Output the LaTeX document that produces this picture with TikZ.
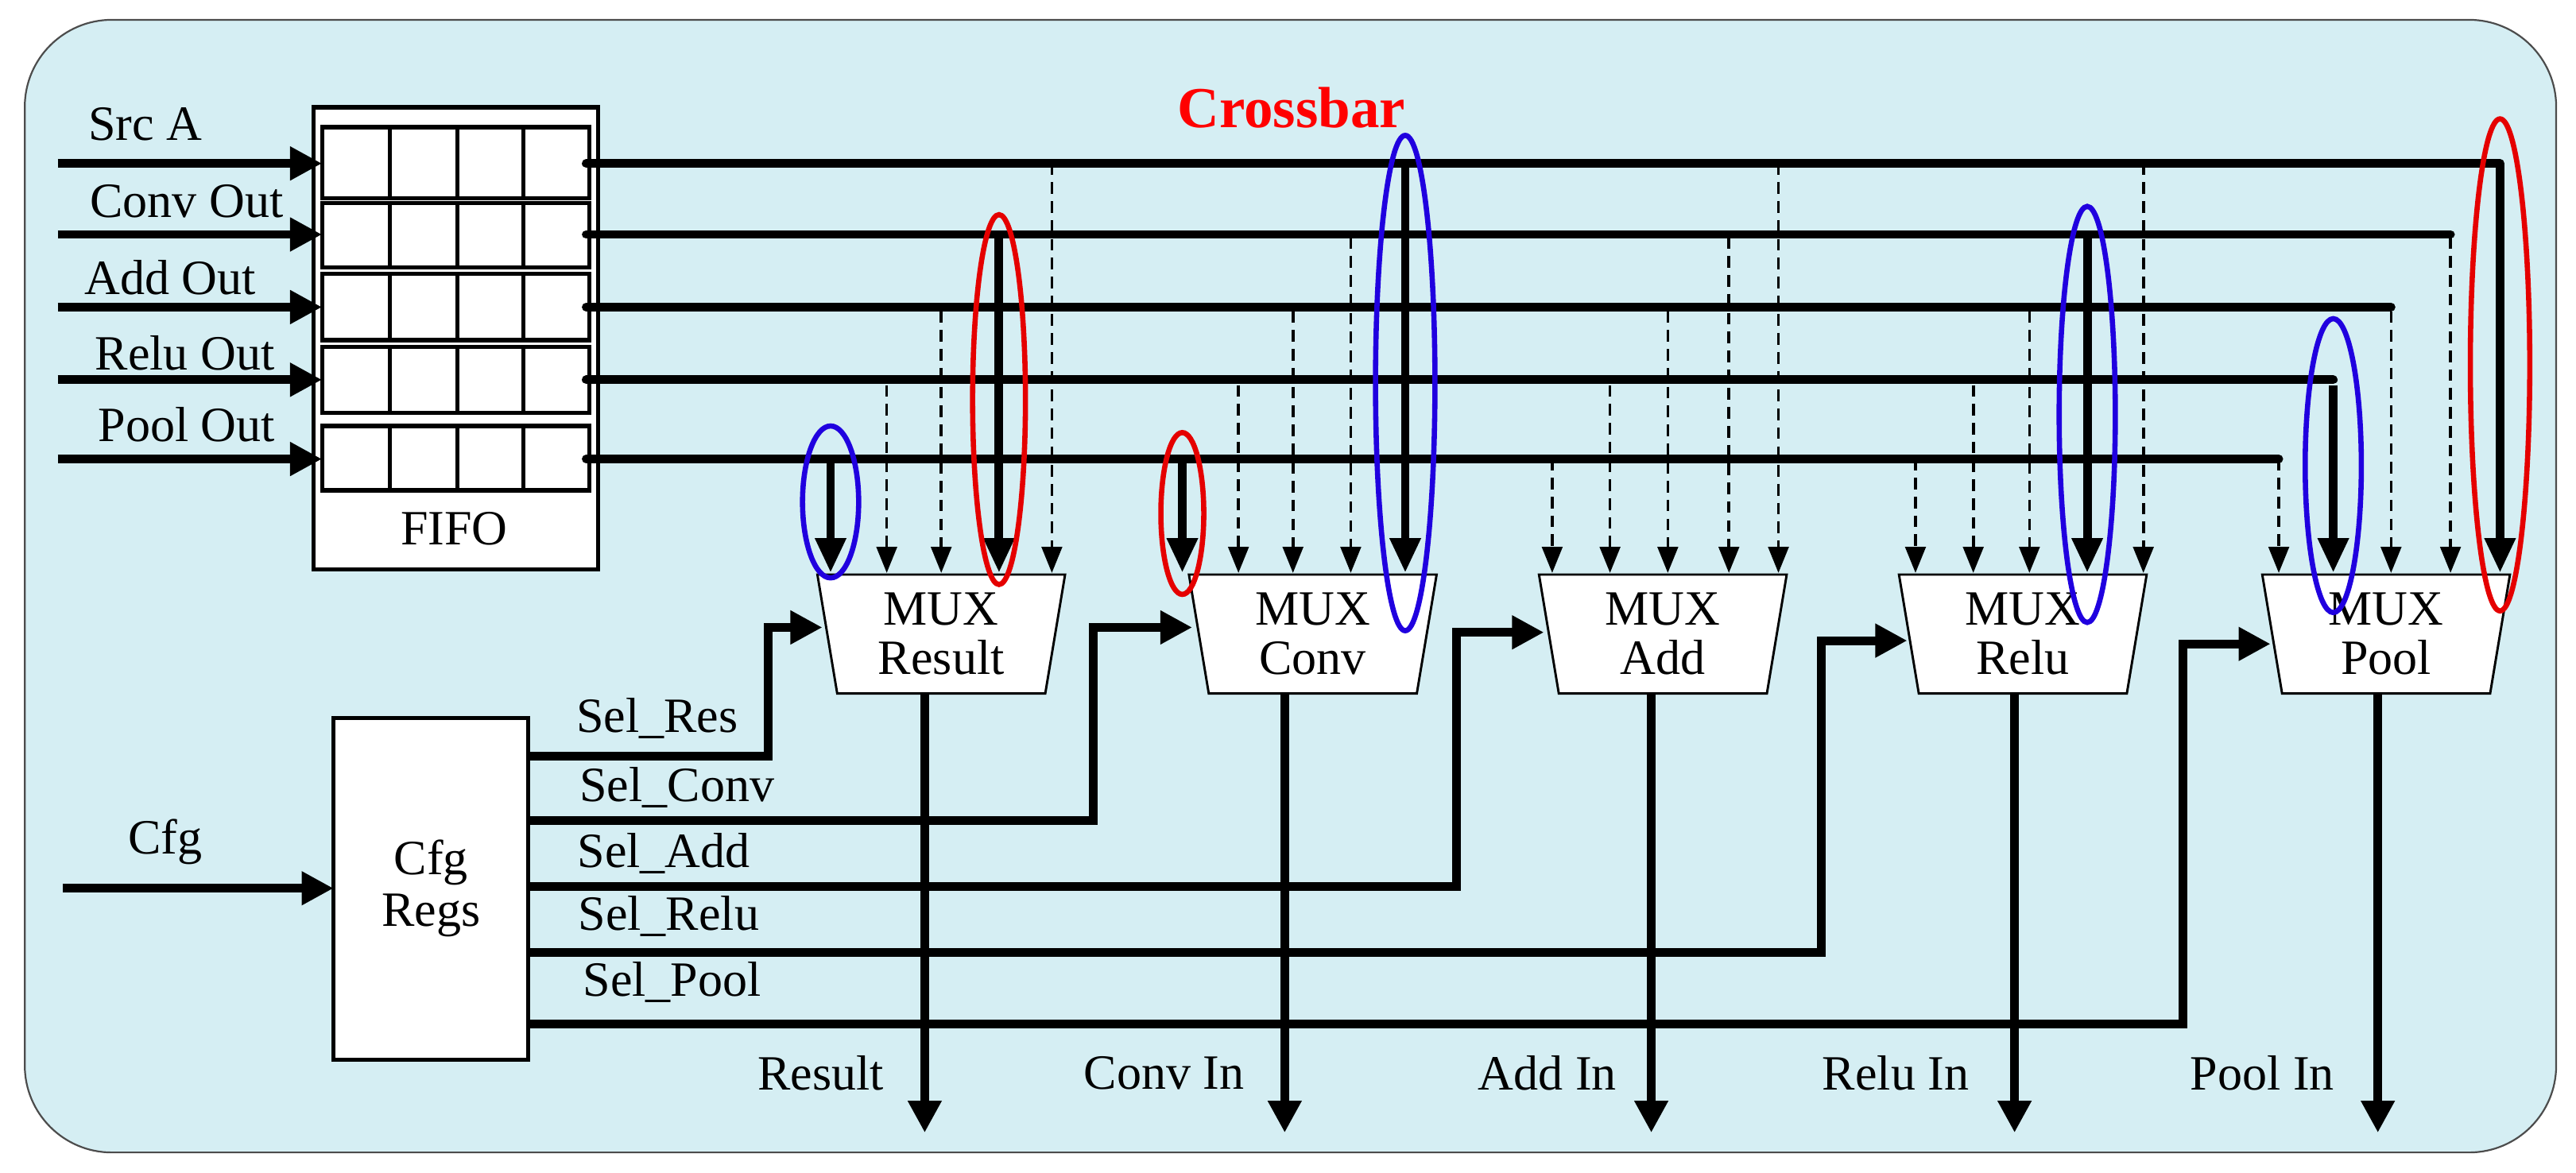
\documentclass[tikz,border=0pt]{standalone}
\usepackage{fontspec}
\setmainfont{Liberation Serif}
\usetikzlibrary{arrows.meta}
\definecolor{bgc}{RGB}{213,238,243}
\begin{document}
\begin{tikzpicture}[x=0.02cm,y=-0.02cm,
  txt/.style={font=\fontsize{17}{18}\selectfont},
  bus/.style={line width=3pt,line cap=round},
  drop/.style={line width=3pt,-{Triangle[length=12pt,width=10pt]}},
  ddrop/.style={line width=1pt,dashed,dash pattern=on 4pt off 2.5pt,-{Triangle[length=9pt,width=7pt]}},
  inarr/.style={line width=3pt,-{Triangle[length=11pt,width=11pt]}},
  cell/.style={draw,line width=1.4pt,fill=white},
  mux/.style={draw,line width=0.8pt,fill=white},
  redring/.style={draw=red!90!black,line width=1.8pt},
  bluering/.style={draw=blue!75!violet,line width=1.8pt}]
\useasboundingbox (0,0) rectangle (1560,710);
\draw[fill=bgc,draw=black!70,line width=0.6pt,rounded corners=30pt] (15,12) rectangle (1548,698);
\node[txt,text=red,font=\fontsize{20}{22}\selectfont\bfseries] (xbar) at (782,65) {Crossbar};
% FIFO
\draw[cell] (190,65) rectangle (362,345);
\node[txt] (fifo) at (275,320) {FIFO};
\foreach \t/\b/\yy [count=\i] in {77/120/99,123/162/142,166/206/186,210/250/230,258/297/278}{
  \draw[cell] (195,\t) rectangle (357,\b);
  \foreach \xx in {236,277,317} \draw[line width=1.4pt] (\xx,\t) -- (\xx,\b);
  \coordinate (in\i) at (35,\yy);
  \coordinate (row\i) at (195,\yy);
  \coordinate (out\i) at (355,\yy);
  \draw[inarr] (in\i) -- (row\i);
}
\node[txt] (la1) at (88,75) {Src A};
\node[txt] (la2) at (113,122) {Conv Out};
\node[txt] (la3) at (103,168) {Add Out};
\node[txt] (la4) at (112,214) {Relu Out};
\node[txt] (la5) at (113,257) {Pool Out};
% buses
\coordinate (e1) at (1514,99); \coordinate (e2) at (1484,142); \coordinate (e3) at (1448,186);
\coordinate (e4) at (1413,230); \coordinate (e5) at (1380,278);
\foreach \i in {1,...,5} \draw[bus] (out\i) -- (e\i);
% MUXes
\foreach \n/\l/\lab in {Res/495/Result,Conv/720/Conv,Add/932/Add,Relu/1150/Relu,Pool/1370/Pool}{
  \draw[mux] (\l,348) -- (\l+150,348) -- (\l+138,420) -- (\l+12,420) -- cycle;
  \node[txt,align=center] (m\n) at (\l+75,384) {MUX\\[-1pt]\lab};
}
% drops
\foreach \x/\r/\s in {503/5/drop,537/4/ddrop,570/3/ddrop,605/2/drop,637/1/ddrop,
  716/5/drop,750/4/ddrop,783/3/ddrop,818/2/ddrop,851/1/drop,
  940/5/ddrop,975/4/ddrop,1010/3/ddrop,1047/2/ddrop,1077/1/ddrop,
  1160/5/ddrop,1195/4/ddrop,1229/3/ddrop,1264/2/drop,1298/1/ddrop,
  1380/5/ddrop,1413/4/drop,1448/3/ddrop,1484/2/ddrop,1514/1/drop}{
  \draw[\s] (\x,{99+(\r-1)*44.75}) -- (\x,347);
}
% rings
\draw[bluering] (503,304) ellipse (17 and 46);
\draw[redring] (605,242) ellipse (16 and 112);
\draw[redring] (716,311) ellipse (13 and 49);
\draw[bluering] (851,232) ellipse (18 and 150);
\draw[bluering] (1264,251) ellipse (17 and 126);
\draw[bluering] (1413,282) ellipse (17 and 89);
\draw[redring] (1514,221) ellipse (18 and 149);
% Cfg regs
\draw[cell] (202,435) rectangle (320,642);
\node[txt,align=center] (cfg) at (261,538) {Cfg\\Regs};
\coordinate (cfgin) at (38,538);
\draw[inarr] (cfgin) -- (202,538);
\node[txt] (cfgl) at (100,510) {Cfg};
\foreach \y/\xt/\ya/\xm/\lab/\lx/\ly in {458/465/380/498/Sel\_Res/398/435,
  497/662/380/722/Sel\_Conv/410/477,
  537/882/383/935/Sel\_Add/402/517,
  577/1103/388/1155/Sel\_Relu/405/555,
  620/1322/390/1375/Sel\_Pool/407/595}{
  \draw[inarr] (320,\y) -| (\xt,\ya) -- (\xm,\ya);
  \node[txt] at (\lx,\ly) {\lab};
}
% outputs
\foreach \x/\lab/\lx in {560/Result/497,778/Conv In/705,1000/Add In/937,1220/Relu In/1148,1440/Pool In/1370}{
  \draw[inarr] (\x,420) -- (\x,686);
  \node[txt] at (\lx,650) {\lab};
}
\end{tikzpicture}
\end{document}
